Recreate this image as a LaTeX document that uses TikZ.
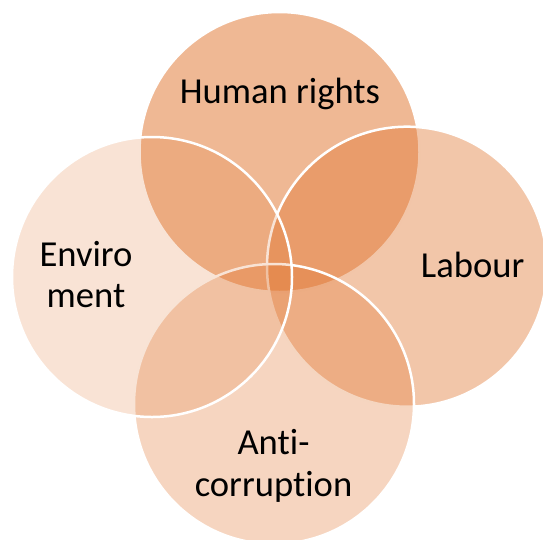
\documentclass[tikz,border=0pt]{standalone}
\usepackage{fontspec}
\setmainfont{Carlito}[RawFeature=-liga]
\definecolor{vbase}{RGB}{224,116,46}
\begin{document}
\begin{tikzpicture}[x=1pt,y=-1pt,
  venn/.style={circle, minimum size=280pt, inner sep=0pt, outer sep=0pt, fill=vbase, fill opacity=#1, draw=white, draw opacity=1, line width=2.5pt},
  lbl/.style={font=\fontsize{36.6}{41.5}\selectfont, align=center, inner sep=0pt, text=black}]
\useasboundingbox (0,0) rectangle (543,539);
\clip (0,0) rectangle (543,539);
\node[venn=0.51] (ctop) at (279.5,152) {};
\node[venn=0.41] (cright) at (407,266.7) {};
\node[venn=0.30] (cbottom) at (274,404) {};
\node[venn=0.20] (cleft) at (152,277) {};
\node[lbl, anchor=base] (thr) at (280,103) {Human rights};
\node[lbl, anchor=base] (tenv) at (86,307.5) {Enviro\\ment};
\node[lbl, anchor=base] (tlab) at (472.6,277.7) {Labour};
\node[lbl, anchor=base] (tac) at (273.5,496) {Anti-\\corruption};
\end{tikzpicture}
\end{document}
